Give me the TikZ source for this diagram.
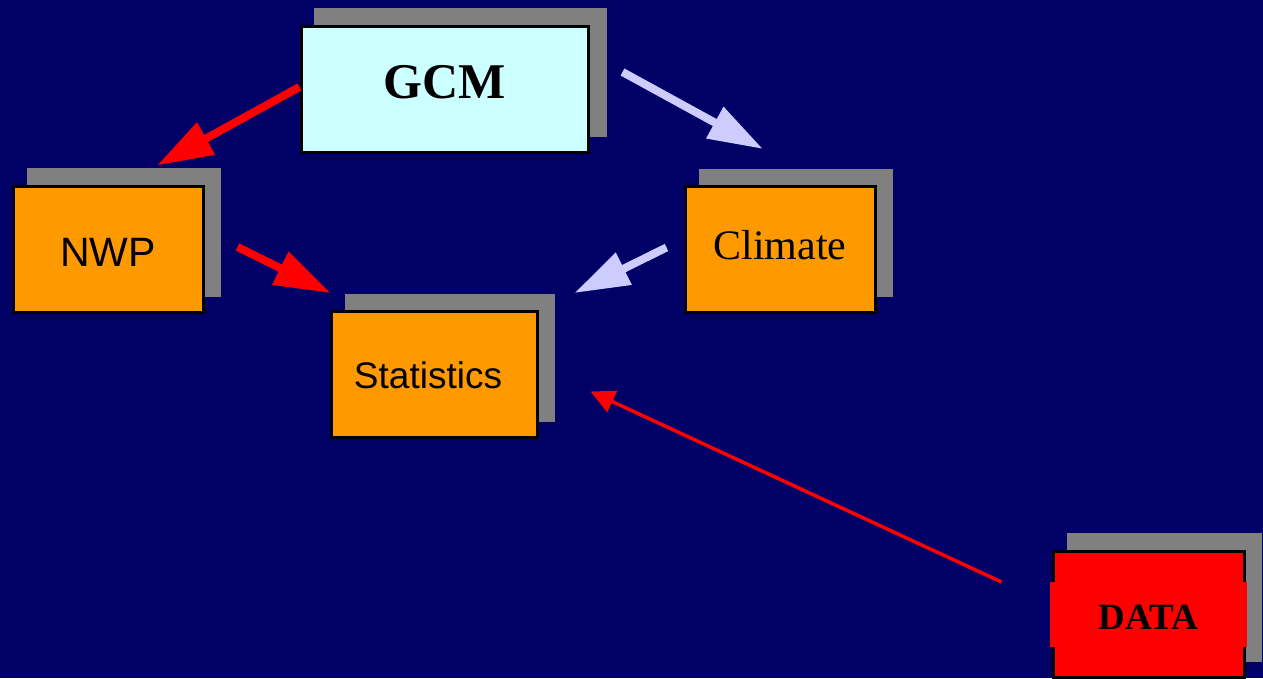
\documentclass[tikz,border=0pt]{standalone}
\usepackage{fontspec}
\setmainfont{Liberation Serif}
\newfontfamily\arialfont{Liberation Sans}
\usetikzlibrary{arrows.meta,shadows,calc}
\definecolor{navybg}{RGB}{0,0,102}
\definecolor{shadowgray}{RGB}{128,128,128}
\definecolor{paleaqua}{RGB}{204,255,255}
\definecolor{boxorange}{RGB}{255,153,0}
\definecolor{lavender}{RGB}{204,204,255}
\definecolor{datared}{RGB}{255,0,0}
\begin{document}
\begin{tikzpicture}[x=1pt,y=-1pt,
  box/.style={draw=black, line width=3pt, inner sep=0pt,
    minimum height=126pt,
    general shadow={fill=shadowgray, shadow xshift=16pt, shadow yshift=16pt,
      shadow scale=1.02}},
  thickred/.style={draw=datared, line width=8pt,
    -{Triangle[length=56pt,width=35pt]}},
  thicklav/.style={draw=lavender, line width=8pt,
    -{Triangle[length=55pt,width=34pt]}},
  thinred/.style={draw=datared, line width=3.5pt,
    -{Triangle[length=24pt,width=23pt]}}]
  % page background
  \fill[navybg] (0,0) rectangle (1263,678);
  \useasboundingbox (0,0) rectangle (1263,678);

  % boxes
  \node[box, fill=paleaqua, minimum width=287pt, text height=33pt, text depth=14pt]
    (gcm) at (444.5,89) {\bfseries\fontsize{50}{60}\selectfont GCM};
  \node[box, fill=boxorange, minimum width=190pt, text height=35pt, text depth=0pt]
    (nwp) at (108,249) {\arialfont\fontsize{41}{49}\selectfont NWP};
  \node[box, fill=boxorange, minimum width=190pt, text height=29pt, text depth=10pt]
    (climate) at (780,249.5) {\fontsize{42}{50}\selectfont Climate};
  \node[box, fill=boxorange, minimum width=206pt, text height=27pt, text depth=0pt]
    (stats) at (434,374.5) {\arialfont\fontsize{37}{44}\selectfont\hspace*{-12pt}Statistics};
  \node[box, fill=datared, minimum width=191pt, text height=30pt, text depth=0pt]
    (data) at (1148.5,614) {\bfseries\fontsize{37}{44}\selectfont DATA};
  % red fill running over the middle of the DATA border
  \fill[datared] ($(data.west)+(-1.5,-32)$) rectangle ($(data.east)+(1.5,33)$);
  \node[text height=30pt, text depth=0pt, inner sep=0pt] at (data.center)
    {\bfseries\fontsize{37}{44}\selectfont DATA};

  % connectors
  \draw[thickred] ($(gcm.west)+(0,-2)$) -- ($(nwp.north)+(49,-19)$);
  \draw[thicklav] ($(gcm.east)+(33,-17)$) -- ($(climate.north)+(-17,-36)$);
  \draw[thickred] ($(nwp.east)+(33,-2)$) -- ($(stats.north west)+(1,-17)$);
  \draw[thicklav] ($(climate.west)+(-17,-2)$) -- ($(stats.north east)+(36,-17)$);
  \draw[thinred] ($(data.west)+(-50,-32)$) -- ($(stats.east)+(52,17)$);
\end{tikzpicture}
\end{document}
